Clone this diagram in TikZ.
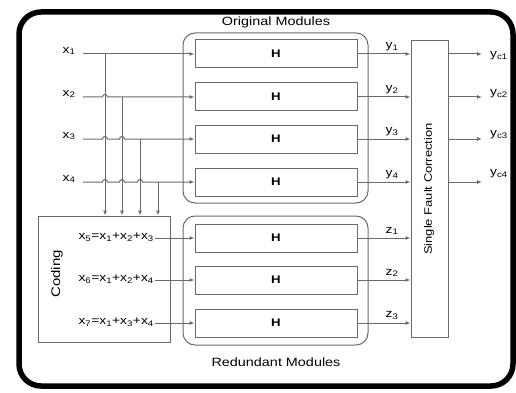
\documentclass[tikz,border=0pt]{standalone}
\usepackage{fontspec}
\setmainfont[FakeStretch=1.2]{Liberation Sans}
\usetikzlibrary{arrows.meta}
\definecolor{ln}{HTML}{6A6A6A}
\begin{document}
\begin{tikzpicture}[x=1pt,y=-1pt,
  conn/.style={draw=ln,line width=1pt},
  arr/.style={conn,-{Latex[length=5pt,width=4pt]}},
  hbox/.style={draw=ln,line width=1pt,minimum width=162pt,minimum height=28pt,inner sep=0pt,font=\fontsize{11}{13}\selectfont\bfseries},
  grp/.style={draw=ln,line width=1pt,rounded corners=12pt,inner sep=0pt},
  plainbox/.style={draw=ln,line width=1pt,inner sep=0pt},
  lbl/.style={font=\fontsize{11.5}{13}\selectfont,inner sep=1pt},
  ttl/.style={font=\fontsize{12}{14}\selectfont,inner sep=1pt},
]
\useasboundingbox (0,0) rectangle (516,393);
\fill[white] (0,0) rectangle (516,393);
% outer frame
\draw[line width=5.5pt,rounded corners=22pt] (19,12) rectangle (513,386);

% module groups
\node[grp,minimum width=185pt,minimum height=170pt] (orig) at (275.5,118) {};
\node[grp,minimum width=185pt,minimum height=129pt] (red) at (275.5,280.5) {};
\node[ttl] (otitle) at (276,22) {Original Modules};
\node[ttl] (rtitle) at (276,362) {Redundant Modules};

% H boxes
\foreach \i/\y in {1/54,2/97,3/139,4/182,5/238,6/280,7/323}{
  \node[hbox] (h\i) at (276,\y) {H};
}

% single fault correction
\node[plainbox,minimum width=37pt,minimum height=296pt] (sfc) at (429.5,189) {};
\node[rotate=90,font=\fontsize{10.8}{12}\selectfont,inner sep=0pt] (sfctext) at (429,189) {Single Fault Correction};

% coding
\node[plainbox,minimum width=132pt,minimum height=126pt] (coding) at (104,279) {};
\node[rotate=90,font=\fontsize{12.5}{14}\selectfont,inner sep=0pt] (codtext) at (57,274) {Coding};

% inputs
\foreach \i/\y in {1/54,2/97,3/139,4/182}{
  \node[lbl] (xl\i) at (69,\y-3) {x\textsubscript{\i}};
  \coordinate (in\i) at (83,\y);
}
\coordinate (t1) at (105,54);
\coordinate (t2) at (122,97);
\coordinate (t3) at (140,139);
\coordinate (t4) at (158,182);

\draw[arr] (in1) -- (h1.west);
\draw[arr] (in2) -- (102.5,97) arc[start angle=180,end angle=0,radius=2.5pt] -- (h2.west);
\draw[arr] (in3) -- (102.5,139) arc[start angle=180,end angle=0,radius=2.5pt]
  -- (119.5,139) arc[start angle=180,end angle=0,radius=2.5pt] -- (h3.west);
\draw[arr] (in4) -- (102.5,182) arc[start angle=180,end angle=0,radius=2.5pt]
  -- (119.5,182) arc[start angle=180,end angle=0,radius=2.5pt]
  -- (137.5,182) arc[start angle=180,end angle=0,radius=2.5pt] -- (h4.west);

\foreach \i in {1,2,3,4}{
  \draw[arr] (t\i) -- (t\i |- coding.north);
}

% coded inputs
\node[lbl,anchor=east] (f5) at (155,237) {x\textsubscript{5}=x\textsubscript{1}+x\textsubscript{2}+x\textsubscript{3}};
\node[lbl,anchor=east] (f6) at (155,279) {x\textsubscript{6}=x\textsubscript{1}+x\textsubscript{2}+x\textsubscript{4}};
\node[lbl,anchor=east] (f7) at (155,322) {x\textsubscript{7}=x\textsubscript{1}+x\textsubscript{3}+x\textsubscript{4}};
\draw[arr] (f5.east |- h5) -- (h5.west);
\draw[arr] (f6.east |- h6) -- (h6.west);
\draw[arr] (f7.east |- h7) -- (h7.west);

% outputs to SFC
\foreach \i in {1,2,3,4}{
  \draw[arr] (h\i.east) -- (h\i.east -| sfc.west);
  \node[lbl,anchor=south] (yl\i) at ([yshift=2pt]h\i.east -| 392,0) {y\textsubscript{\i}};
}
\foreach \i/\j in {5/1,6/2,7/3}{
  \draw[arr] (h\i.east) -- (h\i.east -| sfc.west);
  \node[lbl,anchor=south] (zl\j) at ([yshift=2pt]h\i.east -| 392,0) {z\textsubscript{\j}};
}

% corrected outputs
\foreach \i/\y/\ly in {1/54/56,2/97/94,3/139/135,4/182/174}{
  \coordinate (o\i) at (482,\y);
  \draw[arr] (sfc.east |- o\i) -- (o\i);
  \node[lbl] (yc\i) at (499,\ly) {y\textsubscript{c\i}};
}
\end{tikzpicture}
\end{document}
